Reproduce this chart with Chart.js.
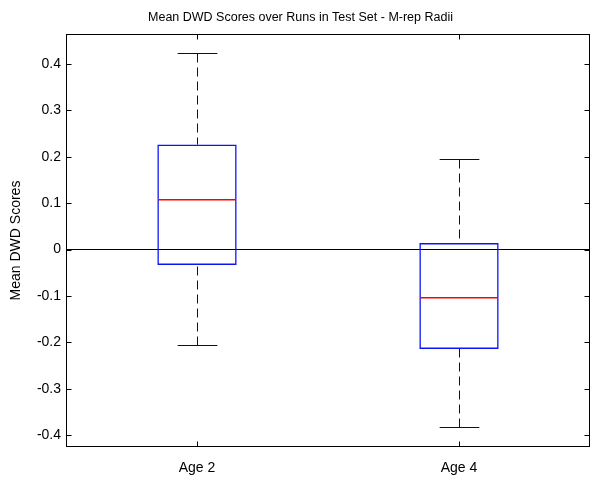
<!DOCTYPE html>
<html>
<head>
<meta charset="utf-8">
<script src="https://cdn.jsdelivr.net/npm/chart.js@4/dist/chart.umd.min.js"></script>
<style>
  body { margin: 0; background: #fff; }
</style>
</head>
<body>
<canvas id="graphique-dwd" width="601" height="480"></canvas>
<script>
const categories = ["Age 2", "Age 4"];
const whiskerLow = [-0.206, -0.383];
const quartile1 = [-0.033, -0.214];
const medians = [0.109, -0.102];
const quartile3 = [0.226, 0.014];
const whiskerHigh = [0.423, 0.195];
const yTicks = [-0.4, -0.3, -0.2, -0.1, 0, 0.1, 0.2, 0.3, 0.4];
const yTickLabels = ["-0.4", "-0.3", "-0.2", "-0.1", "0", "0.1", "0.2", "0.3", "0.4"];

const police = { family: "'Liberation Sans', Arial, sans-serif", size: 14 };

// whiskers, caps, medians, frame and inward ticks (MATLAB style)
const boxPlugin = {
  id: "boxplot",
  afterDatasetsDraw(chart) {
    const ctx = chart.ctx;
    const y = chart.scales.y;
    const area = chart.chartArea;
    const bars = chart.getDatasetMeta(0).data;
    ctx.save();
    ctx.lineWidth = 1;
    for (let i = 0; i < bars.length; i++) {
      const x = Math.round(bars[i].x) + 0.5;
      const half = bars[i].width / 2;
      const yHigh = Math.round(y.getPixelForValue(whiskerHigh[i])) + 0.5;
      const yLow = Math.round(y.getPixelForValue(whiskerLow[i])) + 0.5;
      const yQ3 = y.getPixelForValue(quartile3[i]);
      const yQ1 = y.getPixelForValue(quartile1[i]);
      const yMed = Math.round(y.getPixelForValue(medians[i]));

      ctx.strokeStyle = "#111";
      ctx.setLineDash([9, 5]);
      ctx.beginPath();
      ctx.moveTo(x, yHigh);
      ctx.lineTo(x, yQ3);
      ctx.moveTo(x, yLow);
      ctx.lineTo(x, yQ1);
      ctx.stroke();

      ctx.setLineDash([]);
      ctx.beginPath();
      ctx.moveTo(x - half / 2, yHigh);
      ctx.lineTo(x + half / 2, yHigh);
      ctx.moveTo(x - half / 2, yLow);
      ctx.lineTo(x + half / 2, yLow);
      ctx.stroke();

      ctx.fillStyle = "#ff0000";
      ctx.fillRect(bars[i].x - half + 1, yMed, bars[i].width - 2, 1.5);
    }

    ctx.strokeStyle = "#000";
    const l = Math.round(area.left) + 0.5;
    const r = Math.round(area.right) - 0.5;
    const t = Math.round(area.top) + 0.5;
    const b = Math.round(area.bottom) - 0.5;
    ctx.strokeRect(l, t, r - l, b - t);
    ctx.beginPath();
    for (let v of yTicks) {
      const py = Math.round(y.getPixelForValue(v)) + 0.5;
      ctx.moveTo(l, py);
      ctx.lineTo(l + 5, py);
      ctx.moveTo(r, py);
      ctx.lineTo(r - 5, py);
    }
    for (let bar of bars) {
      const px = Math.round(bar.x) + 0.5;
      ctx.moveTo(px, t);
      ctx.lineTo(px, t + 5);
      ctx.moveTo(px, b);
      ctx.lineTo(px, b - 5);
    }
    ctx.stroke();
    ctx.restore();
  },
};

const boites = categories.map((c, i) => [quartile1[i], quartile3[i]]);

new Chart(document.querySelector("#graphique-dwd"), {
  type: "bar",
  data: {
    labels: categories,
    datasets: [
      {
        label: "Mean DWD Scores",
        data: boites,
        backgroundColor: "rgba(0,0,0,0)",
        borderColor: "#0a14f5",
        borderWidth: 1.5,
        borderSkipped: false,
        barPercentage: 0.303,
        categoryPercentage: 1,
      },
    ],
  },
  options: {
    responsive: false,
    animation: false,
    plugins: {
      legend: { display: false },
      tooltip: { enabled: false },
      title: {
        display: true,
        text: "Mean DWD Scores over Runs in Test Set - M-rep Radii",
        color: "#000",
        font: { family: police.family, size: 12.5, weight: "normal" },
        padding: { top: 10, bottom: 9 },
      },
    },
    scales: {
      x: {
        grid: { display: false },
        border: { display: false },
        ticks: { color: "#000", font: police, padding: 5 },
        afterFit: (axis) => {
          axis.height = 33;
        },
      },
      y: {
        min: -0.425,
        max: 0.464,
        border: { display: false },
        grid: {
          drawTicks: false,
          color: (c) => (c.tick && Math.abs(c.tick.value) < 1e-9 ? "#000" : "rgba(0,0,0,0)"),
        },
        afterBuildTicks: (axis) => {
          axis.ticks = yTicks.map((v) => ({ value: v }));
        },
        ticks: {
          color: "#000",
          font: police,
          padding: 5,
          callback: (v, i) => yTickLabels[i],
        },
        title: {
          display: true,
          text: "Mean DWD Scores",
          color: "#000",
          font: police,
          padding: { top: 8, bottom: 0 },
        },
        afterFit: (axis) => {
          axis.width = 66;
        },
      },
      droite: {
        position: "right",
        grid: { display: false },
        border: { display: false },
        ticks: { display: false },
        afterFit: (axis) => {
          axis.width = 11;
        },
      },
    },
  },
  plugins: [boxPlugin],
});
</script>
</body>
</html>
